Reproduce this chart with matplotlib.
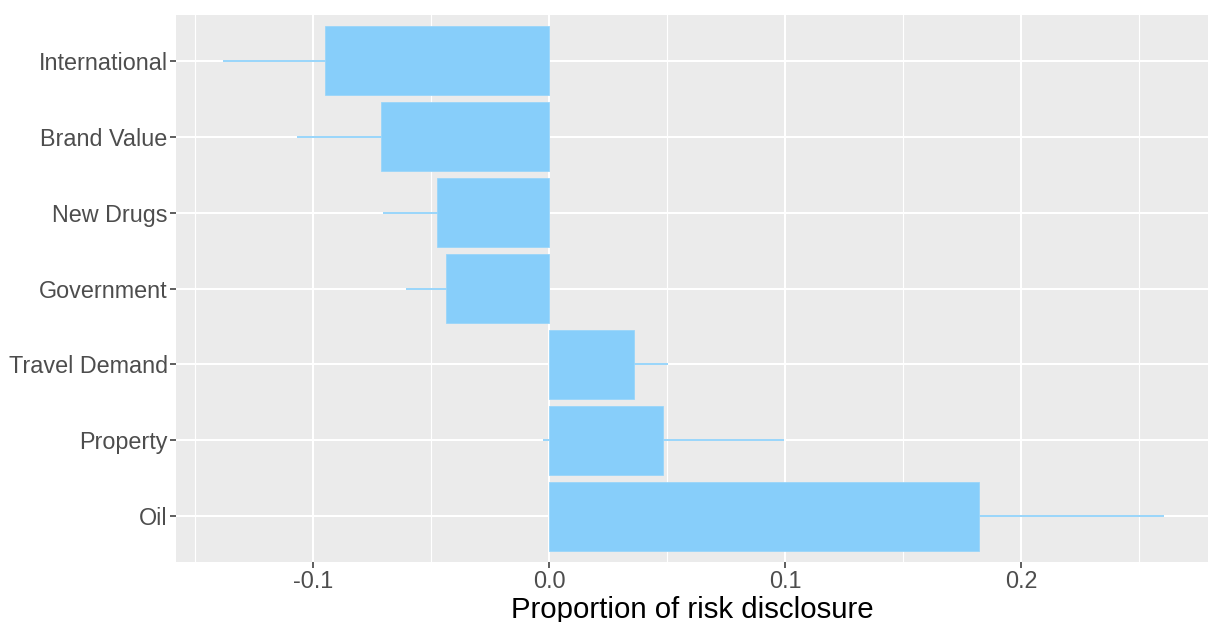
import numpy as np
import matplotlib.pyplot as plt
from matplotlib.ticker import MultipleLocator

plt.rcParams['font.family'] = ['Liberation Sans', 'DejaVu Sans']

# risk topics, bottom to top
topics = ['Oil', 'Property', 'Travel Demand', 'Government', 'New Drugs', 'Brand Value', 'International']
proportion = [0.1821, 0.0485, 0.0362, -0.0436, -0.0475, -0.0713, -0.0950]
half_ci = [0.0785, 0.0511, 0.0141, 0.0170, 0.0228, 0.0354, 0.0430]

bar_col = '#87CEFA'

fig = plt.figure(figsize=(12.08, 6.22), dpi=100)
ax = fig.add_axes([176/1208, 60/622, 1032/1208, 547/622])
ax.set_facecolor('#EBEBEB')

pos = np.arange(1, len(topics) + 1)
ax.barh(pos, proportion, height=0.9, color=bar_col, edgecolor='#9AD6FA', linewidth=0.6, zorder=3)
lo = np.array(proportion) - np.array(half_ci)
hi = np.array(proportion) + np.array(half_ci)
ax.hlines(pos, lo, hi, color=bar_col, linewidth=1.2, zorder=2.5)

ax.set_xlim(-0.158, 0.2792)
ax.set_ylim(0.4, 7.6)
ax.set_yticks(pos)
ax.set_yticklabels(topics)
ax.xaxis.set_minor_locator(MultipleLocator(0.05))
ax.set_xticks([-0.1, 0.0, 0.1, 0.2])
ax.set_xticklabels(['-0.1', '0.0', '0.1', '0.2'])

ax.grid(which='major', color='white', linewidth=1.5, zorder=1)
ax.grid(which='minor', axis='x', color='white', linewidth=0.8, zorder=1)
ax.set_axisbelow(True)
for s in ax.spines.values():
    s.set_visible(False)

ax.tick_params(axis='both', which='major', length=4, width=1.1, color='#333333',
               labelcolor='#4D4D4D', labelsize=16.8, pad=2)
ax.tick_params(axis='x', which='minor', length=0)
ax.set_xlabel('Proportion of risk disclosure', fontsize=21.2, color='black', labelpad=2)

fig.savefig('out.png', dpi=100)
